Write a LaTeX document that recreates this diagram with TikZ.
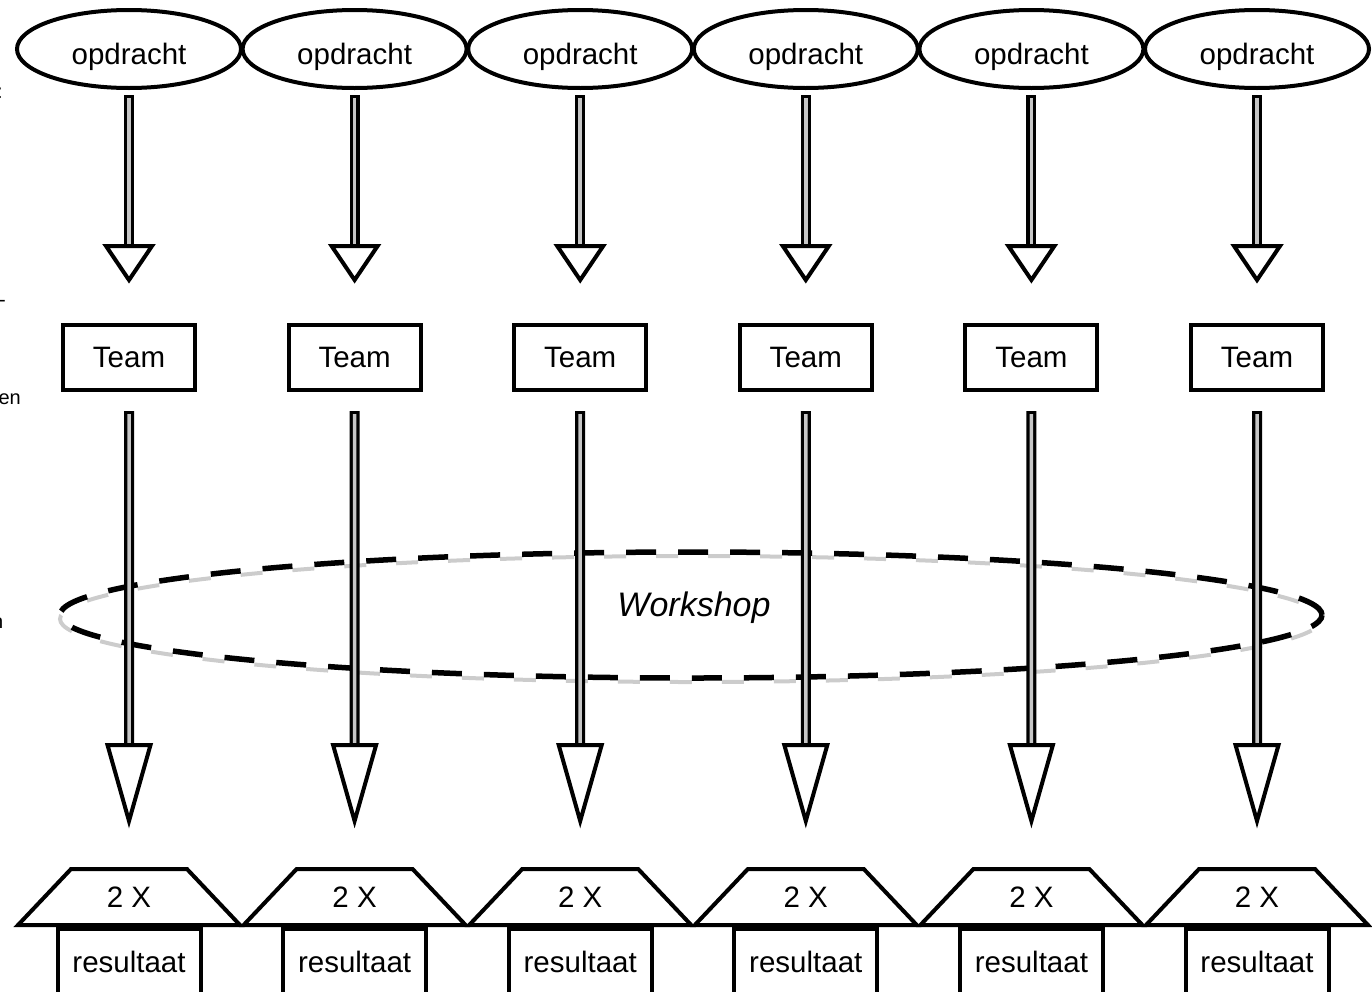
\documentclass[tikz,border=0pt]{standalone}
\usepackage{fontspec}
\setmainfont{Liberation Sans}
\usetikzlibrary{shapes.geometric,calc}
\begin{document}
\begin{tikzpicture}[x=1pt,y=-1pt,
  lbl/.style={font=\fontsize{29.5}{34}\selectfont, inner sep=0pt},
  opd/.style={ellipse, draw, line width=4pt, minimum width=224pt, minimum height=78pt, inner sep=0pt},
  teambox/.style={rectangle, draw, line width=4pt, minimum width=132pt, minimum height=65pt, lbl},
  roof/.style={trapezium, trapezium stretches=true, draw, line width=4pt, minimum width=224pt, minimum height=56pt, trapezium angle=45.5, lbl},
  resbox/.style={rectangle, draw, line width=4pt, minimum width=143pt, minimum height=66pt, lbl},
  shaftout/.style={line width=10pt, black},
  shaftin/.style={line width=3.5pt, gray!45},
  head/.style={draw=black, fill=white, line width=4pt, line join=miter},
  frag/.style={font=\fontsize{20}{24}\selectfont, inner sep=0pt},
  wsblack/.style={draw=black, line width=5.5pt, dash pattern=on 30pt off 22pt},
  wsgrey/.style={draw=gray!40, line width=4pt, dash pattern=on 22pt off 30pt, dash phase=22pt}
]
\useasboundingbox (0,0) rectangle (1372,991);
\clip (0,0) rectangle (1372,991);

% left-edge text fragments
\node[frag, anchor=base east] (f1) at (3,98) {:};
\node[frag, anchor=base east] (f2) at (6,306) {-};
\node[frag, anchor=base east] (f3) at (21,404) {en};
\node[frag, anchor=base east] (f4) at (3.5,628) {n};

\foreach \i in {1,...,6} {
  \pgfmathsetmacro{\cx}{129+(\i-1)*225.6}
  \node[opd] (o\i) at (\cx,49) {};
  \node[lbl] (ot\i) at (\cx,57) {opdracht};
  \node[teambox] (t\i) at (\cx,357.5) {Team};
  \node[roof] (r\i) at (\cx,897) {2 X};
  \node[resbox] (s\i) at (\cx,962) {resultaat};
}

% workshop
\draw[wsgrey] (691,619) ellipse [x radius=631pt, y radius=63pt];
\node[ellipse, wsblack, minimum width=1262pt, minimum height=126pt, inner sep=0pt] (ws) at (691,615) {};
\node[font=\fontsize{34}{40}\selectfont\itshape, inner sep=0pt] (wst) at (694,608) {Workshop};

\foreach \i in {1,...,6} {
  % upper arrow: opdracht -> Team
  \coordinate (a\i) at ($(o\i.south)+(0,5)$);
  \coordinate (b\i) at ($(t\i.north)+(0,-43)$);
  \draw[shaftout] (a\i) -- ($(b\i)+(0,-34)$);
  \draw[shaftin] ($(a\i)+(0,3)$) -- ($(b\i)+(0,-34)$);
  \draw[head] ($(b\i)+(-23,-34)$) -- ($(b\i)+(23,-34)$) -- (b\i) -- cycle;
  % lower arrow: Team -> result
  \coordinate (c\i) at ($(t\i.south)+(0,19)$);
  \coordinate (d\i) at ($(r\i.north)+(0,-46)$);
  \draw[shaftout] (c\i) -- ($(d\i)+(0,-76)$);
  \draw[shaftin] ($(c\i)+(0,3)$) -- ($(d\i)+(0,-76)$);
  \draw[head] ($(d\i)+(-21.5,-76)$) -- ($(d\i)+(21.5,-76)$) -- (d\i) -- cycle;
}
\end{tikzpicture}
\end{document}
